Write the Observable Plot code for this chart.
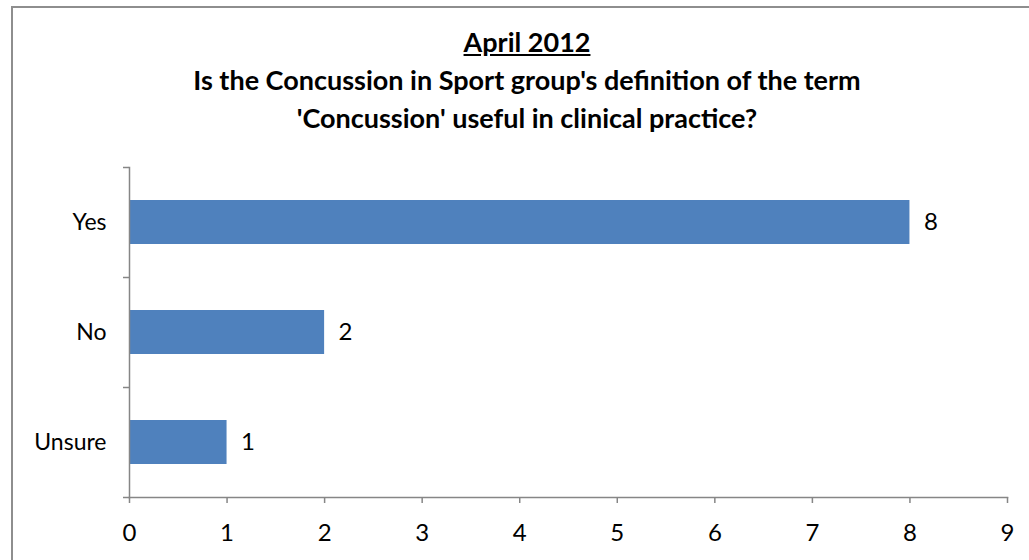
<!DOCTYPE html>
<html>
<head>
<meta charset="utf-8">
<script src="https://cdn.jsdelivr.net/npm/d3@7"></script>
<script src="https://cdn.jsdelivr.net/npm/@observablehq/plot@0.6"></script>
<style>
  body { margin: 0; background: #fff; }
  #wrap { position: relative; width: 1029px; height: 560px; overflow: hidden; font-family: Lato, "Open Sans", sans-serif; background: #fff; }
  #border { position: absolute; left: 11px; top: 6px; width: 1032px; height: 620px; border: 2px solid #8e8e8e; box-sizing: border-box; }
  #title { position: absolute; left: 11px; width: 1032px; top: 23px; text-align: center; font-weight: bold; font-size: 27px; line-height: 38px; color: #000; }
  #chart { position: absolute; left: 0; top: 150px; }
</style>
</head>
<body>
<div id="wrap">
  <div id="border"></div>
  <div id="title"></div>
  <div id="chart"></div>
</div>
<script>
const titleLines = ["April 2012", "Is the Concussion in Sport group's definition of the term", "'Concussion' useful in clinical practice?"];
const answers = ["Yes", "No", "Unsure"];
const counts = [8, 2, 1];
const xTicks = [0, 1, 2, 3, 4, 5, 6, 7, 8, 9];

const t = document.getElementById("title");
t.innerHTML = `<u>${titleLines[0]}</u><br>${titleLines[1]}<br>${titleLines[2]}`;

const data = answers.map((a, i) => ({answer: a, value: counts[i]}));

const W = 1029, H = 410, mt = 17, mb = 63, ml = 129, mr = 22;
const halfStep = (H - mt - mb) / answers.length / 2;
const gray = "#868686";

const chart = Plot.plot({
  width: W, height: H,
  marginLeft: ml, marginRight: mr, marginTop: mt, marginBottom: mb,
  style: {fontFamily: "Lato, 'Open Sans', sans-serif", fontSize: "24px", color: "#000", background: "transparent", overflow: "visible"},
  x: {domain: [0, 9]},
  y: {domain: answers, paddingInner: 0.6, paddingOuter: 0.3},
  marks: [
    Plot.barX(data, {x: "value", y: "answer", fill: "#4F81BD"}),
    Plot.text(data, {x: "value", y: "answer", text: d => String(d.value), textAnchor: "start", dx: 14, fontSize: 24, fill: "#000"}),
    Plot.frame({anchor: "left", stroke: gray, strokeWidth: 1.5}),
    Plot.frame({anchor: "bottom", stroke: gray, strokeWidth: 1.5}),
    Plot.axisX(xTicks, {tickSize: 6, tickPadding: 20, fontSize: 24, stroke: gray, strokeWidth: 1.5, fill: "#000", label: null, tickFormat: d => String(d)}),
    Plot.axisY({tickSize: 0, tickPadding: 23, fontSize: 23, fill: "#000", label: null}),
    Plot.axisY({tickSize: 6, tickFormat: () => "", dy: -halfStep, stroke: gray, strokeWidth: 1.5, label: null}),
    Plot.axisY([answers[answers.length - 1]], {tickSize: 6, tickFormat: () => "", dy: halfStep, stroke: gray, strokeWidth: 1.5, label: null})
  ]
});
document.getElementById("chart").appendChild(chart);
</script>
</body>
</html>
